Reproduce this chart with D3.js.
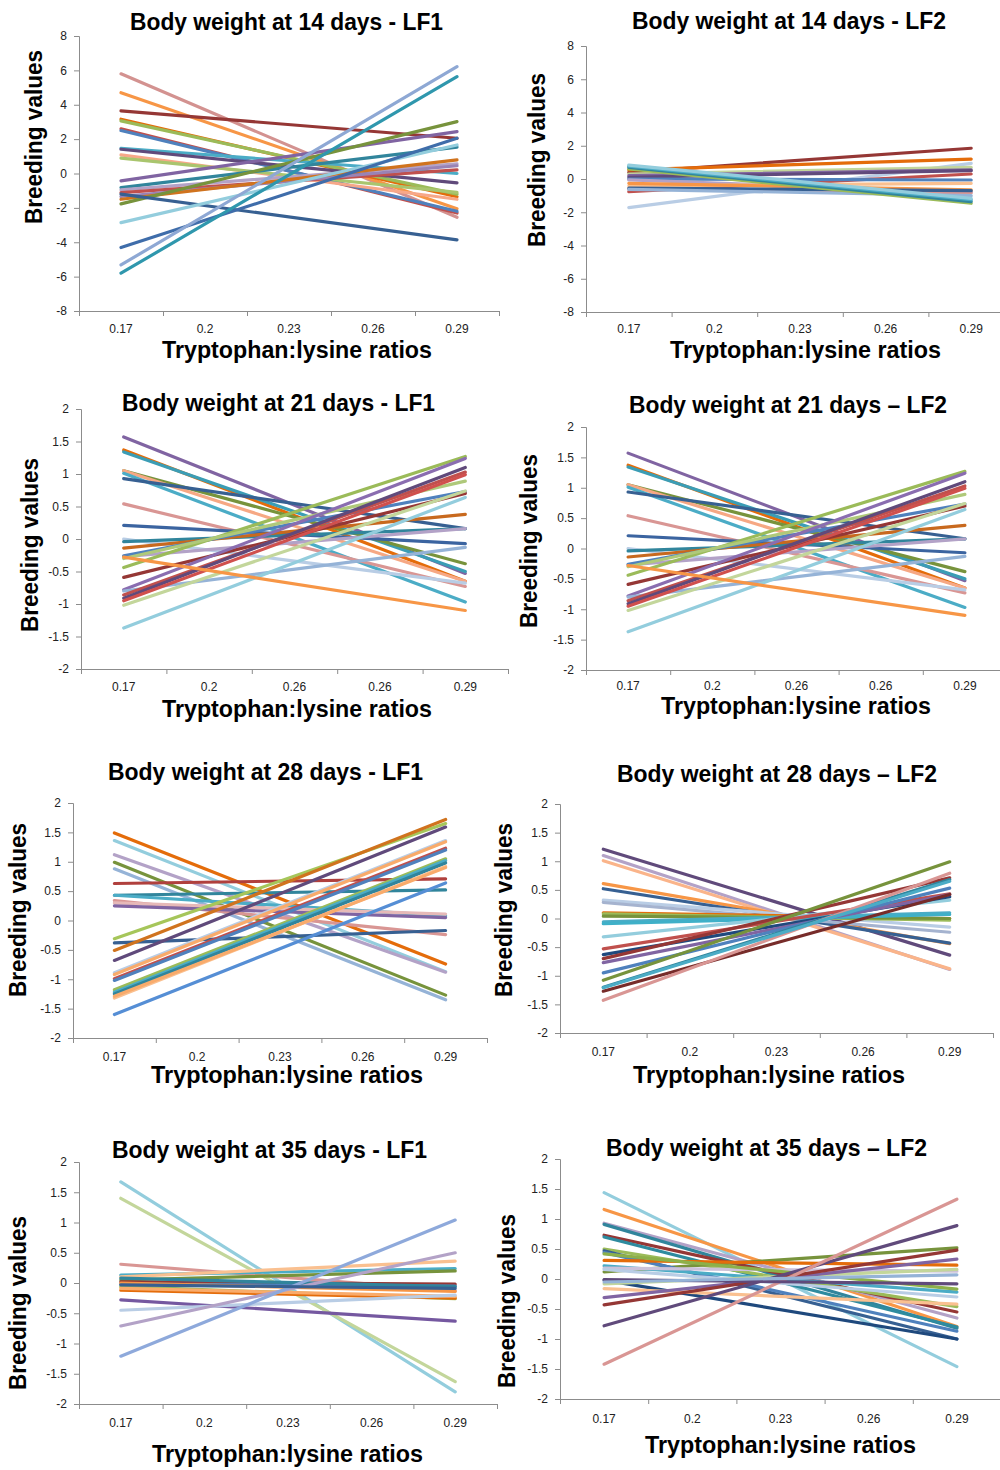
<!DOCTYPE html>
<html><head><meta charset="utf-8">
<script src="https://d3js.org/d3.v7.min.js"></script>
<style>body{margin:0;background:#fff}svg{display:block}</style>
</head><body>
<script>
// ---------- category labels ----------
const ratios = ["0.17","0.2","0.23","0.26","0.29"];
const ratios21 = ["0.17","0.2","0.26","0.26","0.29"];
// ---------- y tick values ----------
const ticksWide = [-8,-6,-4,-2,0,2,4,6,8];
const ticksNarrow = [-2,-1.5,-1,-0.5,0,0.5,1,1.5,2];

// ---------- Body weight 14 d, LF1 ----------
const bw14LF1_at017 = [5.8,4.7,3.64,3.16,3.06,2.6,2.5,1.47,1.41,1.08,0.89,-0.43,-0.82,-0.95,-1.11,-1.34,-1.5,-1.77,-1.2,-2.86,-4.31,-5.32,-5.8];
const bw14LF1_at029 = [-2.55,-2.05,2.05,-1.35,-1.2,-2.3,-2.2,0.0,-0.55,-1.5,-1.1,2.44,1.53,0.56,0.21,0.45,0.79,3.02,-3.86,1.66,2.05,6.22,5.64];
const bw14LF1_col = ["#D39290","#F79646","#953735","#E46C0A","#9BBB59","#C0504D","#4F81BD","#4BACC6","#604A7B","#F7A889","#A9C56E","#8064A2","#31859C","#B3A2C7","#C0504D","#9983B5","#D0731E","#77933C","#376092","#93CDDD","#3F6DAA","#8EA8D4","#2F97AD"];

// ---------- Body weight 14 d, LF2 ----------
const bw14LF2_at017 = [0.4,0.55,-1.72,0.3,0.2,0.1,-0.76,0.0,-0.05,-0.42,-0.26,-0.6,-0.55,-0.62,0.6,0.7,0.78,0.84];
const bw14LF2_at029 = [1.85,1.2,0.94,0.7,0.55,0.5,0.3,-0.06,-0.8,-0.26,-0.66,-0.82,-0.7,-1.0,-1.46,-1.36,-1.25,-1.16];
const bw14LF2_col = ["#953735","#E46C0A","#B9CDE5","#C3D69B","#8064A2","#604A7B","#C0504D","#4F81BD","#B3A2C7","#FAC090","#F79646","#D99694","#376092","#95B3D7","#9BBB59","#31859C","#4BACC6","#93CDDD"];

// ---------- Body weight 21 d (LF1 and LF2 identical) ----------
const bw21_at017 = [1.57,1.37,1.34,1.05,1.05,1.01,0.93,0.54,0.21,0.0,-0.04,-0.14,-0.27,-0.26,-0.44,-0.3,-0.59,-0.78,-0.8,-0.86,-0.91,-0.95,-1.02,-1.37,-0.28];
const bw21_at029 = [-0.53,-0.65,-0.5,-0.38,-0.65,-0.97,0.16,-0.73,-0.07,-0.68,0.16,0.38,0.16,0.73,1.27,0.89,0.7,1.24,-0.13,1.03,1.1,0.99,0.74,0.64,-1.1];
const bw21_col = ["#8064A2","#E46C0A","#3B9DB5","#77933C","#F6A884","#4BACC6","#376092","#D99694","#3B64A0","#B9CDE5","#31859C","#C8691E","#B3A2C7","#4F81BD","#9BBB59","#AFC97A","#953735","#8A6DB0","#95B3D7","#C0504D","#604A7B","#D0504D","#C3D69B","#93CDDD","#F79646"];

// ---------- Body weight 28 d, LF1 ----------
const bw28LF1_at017 = [1.49,1.36,1.12,0.99,0.88,0.63,0.43,0.43,0.34,0.3,0.25,-0.38,-0.31,-0.51,-0.68,-0.89,-0.92,-0.99,-1.02,-1.18,-1.22,-1.25,-1.32,-1.29,-1.6];
const bw28LF1_at029 = [-0.74,-0.87,-0.88,-1.27,-1.35,0.71,0.52,0.08,-0.24,0.11,0.05,-0.17,1.65,1.72,1.59,1.36,1.34,1.23,1.2,1.05,1.02,0.98,0.92,0.9,0.64];
const bw28LF1_col = ["#E46C0A","#93CDDD","#B3A2C7","#77933C","#95B3D7","#B0403D","#31859C","#4BACC6","#D99694","#E6B9B8","#8064A2","#376092","#A6C65A","#D0731E","#604A7B","#B9CDE5","#F9AB6B","#C0504D","#4F81BD","#9BBB59","#4BACC6","#31859C","#FAC090","#F9AB6B","#558ED5"];

// ---------- Body weight 28 d, LF2 ----------
const bw28LF2_at017 = [1.21,1.1,1.01,0.61,0.52,0.32,0.28,0.1,0.08,0.04,-0.06,-0.09,-0.32,-0.53,-0.63,-0.7,-0.77,-0.95,-1.08,-1.2,-1.27,-1.43,-1.21];
const bw28LF2_at029 = [-0.64,-0.89,-0.88,-0.44,-0.43,-0.15,-0.24,0.0,-0.03,0.0,0.1,0.07,0.32,0.43,0.38,0.71,0.42,0.53,0.99,0.68,0.42,0.79,0.65];
const bw28LF2_col = ["#604A7B","#B3A2C7","#FAB48A","#F79646","#376092","#B9CDE5","#A5B3CF","#E46C0A","#9BBB59","#77933C","#4BACC6","#3FB0C8","#93CDDD","#C0504D","#1F497D","#953735","#8064A2","#4F81BD","#77933C","#31859C","#772C2A","#D99694","#4BACC6"];

// ---------- Body weight 35 d, LF1 ----------
const bw35LF1_at017 = [1.67,1.4,0.31,0.13,0.1,0.05,0.02,-0.02,0.08,0.0,-0.06,-0.12,-0.09,-0.28,-0.45,-0.71,-1.21,-0.03];
const bw35LF1_at029 = [-1.8,-1.63,-0.13,0.24,0.36,0.2,-0.02,-0.05,-0.06,-0.14,-0.26,-0.25,-0.22,-0.63,-0.2,0.5,1.04,-0.09];
const bw35LF1_col = ["#93CDDD","#C3D69B","#D99694","#4BACC6","#FAC090","#77933C","#953735","#4F81BD","#31859C","#F79646","#9BBB59","#E46C0A","#F9AB6B","#7558A0","#B9CDE5","#B3A2C7","#8EA9DB","#376092"];

// ---------- Body weight 35 d, LF2 ----------
const bw35LF2_at017 = [1.44,1.16,0.93,0.91,0.73,0.7,0.5,0.12,0.47,0.44,0.31,0.22,0.18,0.42,-0.02,-0.08,0.16,-0.16,-0.31,-0.43,-0.78,-1.42,-0.01,-0.05];
const bw35LF2_at029 = [-1.46,-0.79,-0.65,-0.82,-0.55,-0.8,-0.46,0.52,-1.0,-0.87,0.23,-0.22,0.13,-0.17,-1.0,0.16,-0.3,-0.42,0.33,0.48,0.89,1.33,-0.08,0.07];
const bw35LF2_col = ["#93CDDD","#F79646","#B3A2C7","#31859C","#953735","#2E8B9F","#9BBB59","#77933C","#376092","#4F81BD","#E46C0A","#4BACC6","#CCC1DA","#8DB04A","#1F497D","#C3D69B","#B9CDE5","#FAC090","#8064A2","#953735","#604A7B","#D99694","#604A7B","#95B3D7"];

// ---------- panel layout ----------
const panels = [
  {title:"Body weight at 14 days - LF1", cats:ratios, ticks:ticksWide, dom:[-8,8], a:bw14LF1_at017, b:bw14LF1_at029, c:bw14LF1_col,
   box:[79,36,420,275], t:[130,30,313], yl:[42,137], xl:[162,358,270], tp:22},
  {title:"Body weight at 14 days - LF2", cats:ratios, ticks:ticksWide, dom:[-8,8], a:bw14LF2_at017, b:bw14LF2_at029, c:bw14LF2_col,
   box:[586,46,428,266], t:[632,29,314], yl:[545,160], xl:[670,358,271], tp:21},
  {title:"Body weight at 21 days - LF1", cats:ratios21, ticks:ticksNarrow, dom:[-2,2], a:bw21_at017, b:bw21_at029, c:bw21_col,
   box:[81,409,427,260], t:[122,411,313], yl:[38,545], xl:[162,717,270], tp:22},
  {title:"Body weight at 21 days \u2013 LF2", cats:ratios21, ticks:ticksNarrow, dom:[-2,2], a:bw21_at017, b:bw21_at029, c:bw21_col,
   box:[586,427,421,243], t:[629,413,318], yl:[537,541], xl:[661,714,270], tp:20},
  {title:"Body weight at 28 days - LF1", cats:ratios, ticks:ticksNarrow, dom:[-2,2], a:bw28LF1_at017, b:bw28LF1_at029, c:bw28LF1_col,
   box:[73,803,414,235], t:[108,780,315], yl:[26,910], xl:[151,1083,272], tp:23},
  {title:"Body weight at 28 days \u2013 LF2", cats:ratios, ticks:ticksNarrow, dom:[-2,2], a:bw28LF2_at017, b:bw28LF2_at029, c:bw28LF2_col,
   box:[560,804,433,229], t:[617,782,320], yl:[512,910], xl:[633,1083,272], tp:23},
  {title:"Body weight at 35 days - LF1", cats:ratios, ticks:ticksNarrow, dom:[-2,2], a:bw35LF1_at017, b:bw35LF1_at029, c:bw35LF1_col,
   box:[79,1162,418,242], t:[112,1158,315], yl:[26,1303], xl:[152,1462,271], tp:23},
  {title:"Body weight at 35 days \u2013 LF2", cats:ratios, ticks:ticksNarrow, dom:[-2,2], a:bw35LF2_at017, b:bw35LF2_at029, c:bw35LF2_col,
   box:[560,1159,441,240], t:[606,1156,321], yl:[515,1301], xl:[645,1453,271], tp:24}
];

const svg = d3.select("body").append("svg").attr("width",1000).attr("height",1470)
  .style("font-family","'Liberation Sans', Arial, sans-serif");

panels.forEach(p => {
  const [x0,y0,w,h] = p.box;
  const g = svg.append("g");
  const idx = d3.range(p.cats.length);
  const x = d3.scaleBand().domain(idx).range([x0,x0+w]).paddingInner(0).paddingOuter(0);
  const xb = d3.scaleLinear().domain([0,p.cats.length]).range([x0,x0+w]);
  const y = d3.scaleLinear().domain(p.dom).range([y0+h,y0]);
  const half = x.bandwidth()/2;
  const axColor = "#8c8c8c";

  // y axis
  const ya = g.append("g").attr("transform",`translate(${x0},0)`)
    .call(d3.axisLeft(y).tickValues(p.ticks).tickSize(5).tickPadding(7).tickFormat(d=>String(d)));
  ya.select(".domain").attr("stroke",axColor);
  ya.selectAll(".tick line").attr("stroke",axColor);
  ya.selectAll("text").attr("font-size","12px").attr("fill","#222");

  // x axis boundary ticks
  const xt = g.append("g").attr("transform",`translate(0,${y0+h})`)
    .call(d3.axisBottom(xb).tickValues(d3.range(p.cats.length+1)).tickSize(5).tickFormat(""));
  xt.select(".domain").attr("stroke",axColor);
  xt.selectAll(".tick line").attr("stroke",axColor);
  // x labels at centres
  const xa = g.append("g").attr("transform",`translate(0,${y0+h})`)
    .call(d3.axisBottom(x).tickSize(0).tickPadding(p.tp-8.5).tickFormat(i=>p.cats[i]));
  xa.select(".domain").remove();
  xa.selectAll("text").attr("font-size","12px").attr("fill","#222");

  // lines
  const line = d3.line().x(d=>x(d.i)+half).y(d=>y(d.v));
  const series = p.a.map((v,k)=>({color:p.c[k], pts:[{i:0,v:v},{i:p.cats.length-1,v:p.b[k]}]}));
  g.append("g").selectAll("path").data(series).join("path")
    .attr("d",d=>line(d.pts)).attr("fill","none")
    .attr("stroke",d=>d.color).attr("stroke-width",3.2).attr("stroke-linecap","round");

  // titles
  g.append("text").attr("x",p.t[0]).attr("y",p.t[1]).text(p.title)
    .attr("font-size","23px").attr("font-weight","bold")
    .attr("textLength",p.t[2]).attr("lengthAdjust","spacingAndGlyphs");
  g.append("text").attr("transform",`translate(${p.yl[0]},${p.yl[1]}) rotate(-90)`)
    .attr("text-anchor","middle").text("Breeding values")
    .attr("font-size","23px").attr("font-weight","bold")
    .attr("textLength",174).attr("lengthAdjust","spacingAndGlyphs");
  g.append("text").attr("x",p.xl[0]).attr("y",p.xl[1]).text("Tryptophan:lysine ratios")
    .attr("font-size","23px").attr("font-weight","bold")
    .attr("textLength",p.xl[2]).attr("lengthAdjust","spacingAndGlyphs");
});
</script>
</body></html>
